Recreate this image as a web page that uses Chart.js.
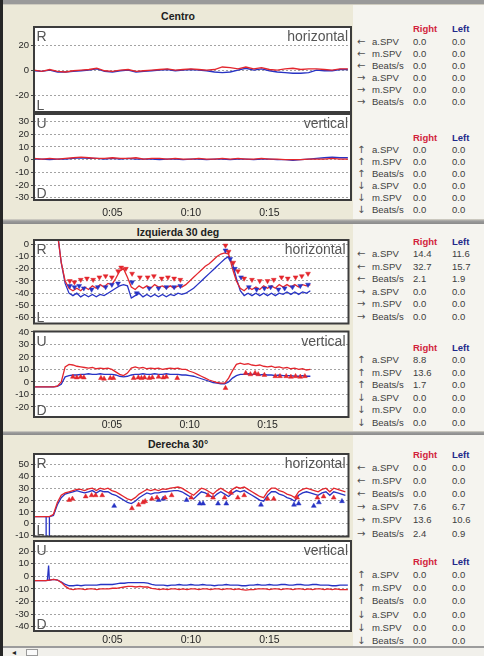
<!DOCTYPE html>
<html>
<head>
<meta charset="utf-8">
<title>Nystagmus recording</title>
<script src="https://cdn.jsdelivr.net/npm/chart.js@4/dist/chart.umd.min.js"></script>
<style>
  html, body { margin: 0; padding: 0; }
  body { width: 484px; height: 656px; overflow: hidden; position: relative; background: #ECE9D8;
         font-family: "Liberation Sans", Arial, sans-serif; }
  .blk { position: absolute; }
  canvas { position: absolute; left: 0; }
  .ttl { position: absolute; left: 3px; width: 350px; text-align: center; font-weight: bold;
         font-size: 10.5px; line-height: 12px; color: #202020; }
  .tx { position: absolute; font-size: 9.5px; line-height: 11px; color: #404040; white-space: nowrap; }
  .arr { font-family: "DejaVu Sans", sans-serif; font-size: 10px; color: #505050; }
  .hr { color: #d21f3c; font-weight: bold; }
  .hl { color: #1f2a8a; font-weight: bold; }
</style>
</head>
<body>
<script>
// ---------- sampling times (s) ----------
const T = [0,0.25,0.5,0.75,1,1.25,1.5,1.75,2,2.25,2.5,2.75,3,3.25,3.5,3.75,4,4.25,4.5,4.75,
  5,5.25,5.5,5.75,6,6.25,6.5,6.75,7,7.25,7.5,7.75,8,8.25,8.5,8.75,9,9.25,9.5,9.75,
  10,10.25,10.5,10.75,11,11.25,11.5,11.75,12,12.25,12.5,12.75,13,13.25,13.5,13.75,14,14.25,14.5,14.75,
  15,15.25,15.5,15.75,16,16.25,16.5,16.75,17,17.25,17.5,17.75,18,18.25,18.5,18.75,19,19.25,19.5,19.75,20];
const T1 = [0,0.5,1,1.5,2,2.5,3,3.5,4,4.5,5,5.5,6,6.5,7,7.5,8,8.5,9,9.5,
  10,10.5,11,11.5,12,12.5,13,13.5,14,14.5,15,15.5,16,16.5,17,17.5,18,18.5,19,19.5,20];

// ---------- Centro ----------
const centroHorRight = [0.5,-0.5,1,-0.5,-1,0,0.5,1,2,0,-0.5,0.5,1,-0.5,0,0.5,1,1.5,0.5,1,
  1.5,1,0.5,1,3,2.5,1.5,3,1.5,2.5,1,0.5,1.5,2,1,1.5,1.5,1,0.5,1.5,1.5];
const centroHorLeft = [0,-0.5,0.5,-1,-1,-0.5,0,0.5,1.5,-0.5,-1,0,0.5,-1,-0.5,0,0.5,1,0,0.5,
  1,0.5,0,-1,-1.5,-1,0.5,2,0.5,1.5,0,-1,-1.5,-2,-2,-1.5,0.5,0,0,1,1];
const centroVerRight = [1,0.5,1,0.5,1,1.5,2,1.5,1,1,1.5,1,1,1.5,0.5,1,1,0.5,1,0.5,
  0.5,1,0.5,0.5,1,0.5,1,0.5,0.5,1,0.5,0.5,0,0,0,0.5,0.5,0.5,1,0.5,0.5];
const centroVerLeft = [0.5,0.5,0,0.5,0.5,1,1.5,1,1,0.5,1,0.5,1,0.5,0.5,0.5,0,0.5,0.5,0,
  0.5,0.5,0,0.5,0.5,0,0.5,0.5,0,0.5,0.5,0,0,-0.5,0,0.5,1,1.5,2,1.5,1.5];

// ---------- Izquierda 30 deg ----------
const izqHorRight = [10,10,10,10,10,10,10,-15,-30,-36,-38,-36,-38,-35,-37,-34,-36,-33,-35,-32,
  -33,-28,-22,-20,-27,-35,-37,-34,-36,-34,-36,-33,-35,-34,-36,-34,-36,-34,-35,-33,
  -30,-27,-24,-21,-18,-16,-13,-10,-8,-7,-8,-20,-30,-36,-38,-35,-37,-35,-37,-34,
  -36,-34,-36,-33,-35,-33,-35,-33,-35,-33,-34,-33,null,null,null,null,null,null,null,null,null];
const izqHorLeft = [10,10,10,10,10,10,10,-15,-32,-40,-42,-40,-43,-41,-43,-41,-43,-41,-42,-40,
  -38,-36,-34,-33,-34,-44,-42,-40,-43,-41,-43,-41,-43,-41,-43,-41,-42,-40,-41,-40,
  -38,-36,-33,-30,-27,-24,-21,-18,-15,-12,-10,-16,-28,-38,-42,-40,-42,-40,-42,-40,
  -42,-40,-42,-40,-41,-39,-41,-39,-41,-39,-40,-38,null,null,null,null,null,null,null,null,null];
const izqVerRight = [-4,-4,-4,-4,-4,-4,-3.5,0,12,14,13.5,12.5,12,11.5,11,11.5,10.5,11,10.5,11,
  10,8,6,5,7,11,12,11,11.5,10.5,11,10.5,11,10,10.5,11,10.5,11,10,10,
  8.5,7.5,6,4.5,3,1.5,0.5,-0.5,-1,-1,3,9,14,15,14,14.5,13.5,13,13.5,12.5,
  12,12.5,11.5,12,11,11.5,10.5,11,10,10.5,9.5,10,null,null,null,null,null,null,null,null,null];
const izqVerLeft = [-4,-4,-4,-4,-4,-4,-3.5,-2,4,5,5.5,5.5,6,6,6.5,6,6,6.5,6,6,
  6,5.5,4.5,4,4.5,5.5,6,6,6.5,6,6,6.5,6,6,6.5,6,6,6,5.5,5.5,
  5,4.5,3.5,2.5,1.5,0.5,-0.5,-1,-1.5,-1.5,0,3,5,6,6,6.5,6,6,5.5,6,
  5.5,5.5,5,5.5,5,5,5,4.5,4.5,5,4.5,4.5,null,null,null,null,null,null,null,null,null];
// slow-phase markers
const izqHorRightMarkT = [2.3,2.6,3.0,3.4,3.8,4.2,4.6,5.0,5.4,5.6,5.9,6.3,6.8,7.3,7.7,8.2,8.6,9.0,9.4,
  12.3,12.5,12.8,13.1,13.5,14.0,14.5,15.0,15.4,15.9,16.3,16.8,17.2,17.6];
const izqHorRightMarkV = [-30,-31,-29,-28,-29,-27,-26,-27,-22,-19,-20,-24,-27,-27,-26,-28,-27,-28,-29,
  -1,-6,-15,-22,-28,-29,-30,-30,-29,-27,-28,-27,-26,-24];
const izqHorLeftMarkT = [2.3,2.6,2.9,3.2,3.7,4.1,4.6,5.0,5.4,6.3,6.6,7.4,8.0,8.5,9.0,9.4,
  12.3,12.6,12.9,13.3,13.8,14.3,14.8,15.2,15.7,16.1,16.6,17.1,17.6];
const izqHorLeftMarkV = [-34,-35,-34,-36,-37,-35,-35,-33,-32,-31,-40,-36,-36,-35,-35,-34,
  -5,-12,-20,-27,-35,-37,-36,-35,-37,-36,-35,-34,-33];
const izqVerRightMarkT = [2.5,2.75,3.0,3.2,4.3,4.5,4.9,5.1,6.4,6.7,6.9,7.1,7.4,7.6,8.0,8.3,8.5,9.2,
  12.3,13.6,13.9,14.2,14.4,14.8,15.5,15.8,16.2,16.5,16.8,17.1,17.4];
const izqVerRightMarkV = [4,3.5,4,3.5,3,2.5,3,3,3,3.5,3,3.5,3,3.5,4,3.5,4,3,
  -5,7,6,7,6,5.5,4.5,4.5,4.5,4,4.5,4,4.5];

// ---------- Derecha 30° ----------
const derHorRight = [6,6,6,6,6,8,18,24,26,27,28,29,29,28,29.5,30,28,30,29,30,
  28,27,25,23,21,20,22,25,27,29,28,29,28,29.5,29,30,30.5,31,30,28,
  26,24,27,30,29,27,25,28,30,28,26,29,31,30,31,29,27,25,23,22,
  27,30,30,28,27,25,24,22,27,29,30,29,28,27,29,30,27,30,29,28,27];
const derHorLeft = [6,6,6,6,6,7,16,22,25,26,27,28,27,26,27,28,26,28,27,27,
  25,24,22,20,18,17,19,22,24,26,25,26,26,27,27,27.5,28,28,27,25,
  23,21,24,27,26,24,22,25,27,25,23,26,28,27,28,26,24,22,20,19,
  24,27,27,25,24,22,21,19,24,26,27,26,25,24,26,27,24,27,26,25,24];
const derHorLeftBlinkT = [0.78,0.78,0.99,0.99];
const derHorLeftBlinkV = [6,-16,-16,6];
const derVerRight = [-3.5,-3.5,-3.5,-3.5,-3,-2.5,-3,-5,-8,-10,-10.5,-10,-10,-10.5,-10,-10,-10.5,-10,-10,-10,
  -9.5,-9.5,-9,-8.5,-8,-8,-8.5,-8,-8.5,-8.5,-9.5,-10,-10.5,-10,-10.5,-10,-10,-10.5,-10,-10.5,
  -10,-10,-10.5,-10,-10,-10.5,-10,-10,-10.5,-10,-10,-10.5,-10,-10.5,-11,-10.5,-10.5,-10,-10,-10,
  -10.5,-10,-10,-10.5,-10,-10,-10.5,-10,-10,-10.5,-10,-10.5,-10,-10,-10.5,-10,-10.5,-10,-10.5,-10.5,-10.5];
const derVerLeft = [-3.5,-3.5,-3.5,-3.5,-3,-2.5,-3,-4.5,-6.5,-7.5,-7.5,-7,-7.5,-7,-7,-7,-7,-6.5,-6.5,-6.5,
  -6.5,-6,-5.5,-5.5,-5,-5,-5,-5,-5,-5.5,-6.5,-7,-7,-7,-7.5,-7,-7,-6.5,-7,-7,
  -6.5,-7,-7,-6.5,-7,-7,-7.5,-7,-7,-6.5,-7,-7,-7,-7.5,-7.5,-7,-7,-6.5,-7,-7,
  -6.5,-7,-7,-6.5,-6.5,-7,-7,-6.5,-6.5,-7,-7,-6.5,-6.5,-7,-7,-7,-7.5,-7.5,-7,-7,-7];
const derVerLeftBlinkT = [0.85,0.93,0.98];
const derVerLeftBlinkV = [-3.5,8.5,-3];
const derHorRightMarkT = [2.26,2.47,3.32,3.7,3.96,4.38,6.29,6.72,7.0,7.14,7.57,7.9,8.42,8.84,
  10.1,11.18,11.5,12.24,12.66,13.09,13.5,15.0,15.4,16.9,18.2,18.6,19.25];
const derHorRightMarkV = [20,21,23,24,24,24,13,16,18,19,21,22,22,24,22,24,22,22,26,22,24,21,21,22,22,23,22];
const derHorLeftMarkT = [5.15,8.0,8.3,9.8,10.65,10.86,11.82,12.35,14.58,16.7,17.0,17.97,18.3,19.78];
const derHorLeftMarkV = [15,20,21,20,17,17,17,17,16,16,17,15,18,19];

// ---------- axis ticks ----------
const timeTickValues = [5, 10, 15];
const timeTickLabels = ['0:05', '0:10', '0:15'];
const centroHorTicks = [-20, 0, 20];
const centroVerTicks = [-30, -20, -10, 0, 10, 20, 30];
const izqHorTicks = [-60, -50, -40, -30, -20, -10, 0];
const izqVerTicks = [-20, -10, 0, 10, 20, 30, 40];
const derHorTicks = [-10, 0, 10, 20, 30, 40, 50];
const derVerTicks = [-40, -30, -20, -10, 0, 10, 20];

// ---------- summary tables (Right / Left) ----------
const metricNames = ['a.SPV', 'm.SPV', 'Beats/s'];
const horArrows = ['\u2190', '\u2190', '\u2190', '\u2192', '\u2192', '\u2192'];
const verArrows = ['\u2191', '\u2191', '\u2191', '\u2193', '\u2193', '\u2193'];
const centroRightVals = [0.0,0.0,0.0,0.0,0.0,0.0, 0.0,0.0,0.0,0.0,0.0,0.0];
const centroLeftVals  = [0.0,0.0,0.0,0.0,0.0,0.0, 0.0,0.0,0.0,0.0,0.0,0.0];
const izqRightVals    = [14.4,32.7,2.1,0.0,0.0,0.0, 8.8,13.6,1.7,0.0,0.0,0.0];
const izqLeftVals     = [11.6,15.7,1.9,0.0,0.0,0.0, 0.0,0.0,0.0,0.0,0.0,0.0];
const derRightVals    = [0.0,0.0,0.0,7.6,13.6,2.4, 0.0,0.0,0.0,0.0,0.0,0.0];
const derLeftVals     = [0.0,0.0,0.0,6.7,10.6,0.9, 0.0,0.0,0.0,0.0,0.0,0.0];

// ---------- page frame ----------
function box(l, t, w, h, bg, extra) {
  const d = document.createElement('div');
  d.className = 'blk';
  d.style.cssText = `left:${l}px;top:${t}px;width:${w}px;height:${h}px;background:${bg};` + (extra || '');
  document.body.appendChild(d);
  return d;
}
function text(l, cy, str, cls) {
  const d = document.createElement('div');
  d.className = 'tx ' + (cls || '');
  d.style.left = l + 'px';
  d.style.top = (cy - 5.5) + 'px';
  d.textContent = str;
  document.body.appendChild(d);
}
function title(cy, str) {
  const d = document.createElement('div');
  d.className = 'ttl';
  d.style.top = (cy - 6) + 'px';
  d.textContent = str;
  document.body.appendChild(d);
}

// side panels behind the tables
box(353, 5, 131, 214, '#F5F4EF');
box(353, 224, 131, 207, '#F5F4EF');
box(353, 435, 131, 211, '#F5F4EF');
// separators
box(0, 0, 484, 4, '#9a9a9a');
box(0, 4, 484, 1, '#cfccc0');
box(0, 219, 484, 5, 'linear-gradient(#d9d6ca,#9c9c9c 40%,#8a8a8a)');
box(0, 431, 484, 4, 'linear-gradient(#d9d6ca,#9c9c9c 40%,#8a8a8a)');
box(0, 646, 484, 2, '#9c9c9c');
// scroll bar
box(3, 648, 481, 8, '#f1f0eb');
box(26, 649, 12, 7, '#fafafa', 'box-sizing:border-box;border:1px solid #9a9a9a;');
const sb = document.createElement('div');
sb.className = 'tx arr';
sb.style.cssText = 'left:12px;top:647px;font-size:8px;color:#222;';
sb.textContent = '\u25C2';
document.body.appendChild(sb);

title(15.5, 'Centro');
title(231.5, 'Izquierda 30 deg');
title(444, 'Derecha 30\u00B0');

function table(h1, r1, h2, r2, step, rightVals, leftVals) {
  [[h1, r1, horArrows], [h2, r2, verArrows]].forEach(([hy, ry, arrows], g) => {
    text(413, hy, 'Right', 'hr');
    text(452, hy, 'Left', 'hl');
    for (let i = 0; i < 6; i++) {
      const y = ry + i * step;
      text(357, y, arrows[i], 'arr');
      text(372, y, metricNames[i % 3]);
      text(413, y, rightVals[g * 6 + i].toFixed(1));
      text(452, y, leftVals[g * 6 + i].toFixed(1));
    }
  });
}
table(28, 41.5, 137, 149.5, 12, centroRightVals, centroLeftVals);
table(241, 253.5, 347, 359.5, 12.5, izqRightVals, izqLeftVals);
table(454, 467, 561, 574.5, 13.2, derRightVals, derLeftVals);

// left window edge
box(0, 0, 3, 656, '#262626');

// ---------- charts ----------
const RED = '#e3262d';
const BLUE = '#2733c4';
Chart.defaults.font.family = '"Liberation Sans", Arial, sans-serif';

function pts(times, values) { return times.map((t, i) => ({ x: t, y: values[i] })); }
function lineDs(times, values, color) {
  return { data: pts(times, values), borderColor: color, borderWidth: 1.3, pointRadius: 0, tension: 0, fill: false };
}
function markDs(times, values, color, rot) {
  return { data: pts(times, values), showLine: false, pointStyle: 'triangle', pointRotation: rot,
           pointRadius: 2.8, pointBackgroundColor: color, pointBorderColor: color, pointBorderWidth: 0.5 };
}

const panelFrame = {
  id: 'panelFrame',
  beforeDraw(chart) {
    const { ctx, chartArea: a } = chart;
    ctx.save();
    ctx.fillStyle = '#ffffff';
    ctx.fillRect(a.left, a.top, a.right - a.left, a.bottom - a.top);
    ctx.restore();
  },
  beforeDatasetsDraw(chart, args, o) {
    const { ctx, chartArea: a } = chart;
    ctx.save();
    ctx.font = '14px "Liberation Sans", Arial, sans-serif';
    ctx.fillStyle = '#555555';
    ctx.textBaseline = 'alphabetic';
    ctx.textAlign = 'left';
    ctx.fillText(o.topLeft, a.left + 2.5, a.top + 14);
    ctx.fillText(o.bottomLeft, a.left + 2.5, a.bottom - 2);
    ctx.textAlign = 'right';
    ctx.fillText(o.topRight, a.right - 3, a.top + 14);
    ctx.restore();
  },
  afterDraw(chart) {
    const { ctx, chartArea: a } = chart;
    ctx.save();
    ctx.strokeStyle = '#3c3c3c';
    ctx.lineWidth = 2;
    ctx.strokeRect(a.left, a.top, a.right - a.left, a.bottom - a.top);
    ctx.restore();
  }
};

function makeChart(c) {
  const cv = document.createElement('canvas');
  cv.width = 353; cv.height = c.h;
  cv.style.top = c.top + 'px';
  cv.style.width = '353px'; cv.style.height = c.h + 'px';
  document.body.appendChild(cv);
  new Chart(cv, {
    type: 'line',
    data: { datasets: c.datasets },
    options: {
      responsive: false, animation: false, events: [], devicePixelRatio: 1,
      layout: { padding: { top: c.padTop, bottom: c.padBottom, left: 0, right: 2 } },
      plugins: { legend: { display: false }, tooltip: { enabled: false },
                 panelFrame: { topLeft: c.tl, bottomLeft: c.bl, topRight: c.tr } },
      scales: {
        x: {
          type: 'linear', min: 0, max: 20.2,
          grid: { display: false, drawTicks: false }, border: { display: false },
          ticks: { display: c.xLabels, padding: c.xPad || 0, color: '#262626', font: { size: 10.5 },
                   maxRotation: 0, autoSkip: false,
                   callback: (v) => timeTickLabels[timeTickValues.indexOf(v)] },
          afterBuildTicks: (s) => { s.ticks = timeTickValues.map(v => ({ value: v })); },
          afterFit: (s) => { s.height = c.xH; s.paddingLeft = 0; s.paddingRight = 0; }
        },
        y: {
          type: 'linear', min: c.yMin, max: c.yMax,
          grid: { color: '#a3a3a3', lineWidth: 1, drawTicks: true, tickLength: 3, tickColor: '#4a4a4a', tickBorderDash: [] },
          border: { display: false, dash: [2, 2] },
          ticks: { padding: 2, color: '#262626', font: { size: 9.5 }, autoSkip: false, callback: (v) => String(v) },
          afterBuildTicks: (s) => { s.ticks = c.yTicks.map(v => ({ value: v })); },
          afterFit: (s) => { s.width = 34; s.paddingTop = 0; s.paddingBottom = 0; }
        }
      }
    },
    plugins: [panelFrame]
  });
}

const charts = [
  { top: 22, h: 91, padTop: 5, padBottom: 1, yMin: -33, yMax: 35, yTicks: centroHorTicks,
    xLabels: false, xH: 0, tl: 'R', bl: 'L', tr: 'horizontal',
    datasets: [lineDs(T1, centroHorRight, RED), lineDs(T1, centroHorLeft, BLUE)] },
  { top: 113, h: 107, padTop: 1, padBottom: 0, yMin: -31.8, yMax: 36, yTicks: centroVerTicks,
    xLabels: true, xH: 20, xPad: 6.5, tl: 'U', bl: 'D', tr: 'vertical',
    datasets: [lineDs(T1, centroVerRight, RED), lineDs(T1, centroVerLeft, BLUE)] },
  { top: 235, h: 93, padTop: 5, padBottom: 1, yMin: -64.8, yMax: 3.5, yTicks: izqHorTicks,
    xLabels: false, xH: 0, tl: 'R', bl: 'L', tr: 'horizontal',
    datasets: [markDs(izqHorRightMarkT, izqHorRightMarkV, RED, 180),
               markDs(izqHorLeftMarkT, izqHorLeftMarkV, BLUE, 180),
               lineDs(T, izqHorRight, RED), lineDs(T, izqHorLeft, BLUE)] },
  { top: 327, h: 107, padTop: 1, padBottom: 0, yMin: -28.1, yMax: 40.3, yTicks: izqVerTicks,
    xLabels: true, xH: 17, xPad: 1.7, tl: 'U', bl: 'D', tr: 'vertical',
    datasets: [markDs(izqVerRightMarkT, izqVerRightMarkV, RED, 0),
               lineDs(T, izqVerRight, RED), lineDs(T, izqVerLeft, BLUE)] },
  { top: 449, h: 92, padTop: 5, padBottom: 1, yMin: -10.8, yMax: 58.9, yTicks: derHorTicks,
    xLabels: false, xH: 0, tl: 'R', bl: 'L', tr: 'horizontal',
    datasets: [markDs(derHorRightMarkT, derHorRightMarkV, RED, 0),
               markDs(derHorLeftMarkT, derHorLeftMarkV, BLUE, 0),
               lineDs(T, derHorRight, RED), lineDs(T, derHorLeft, BLUE),
               lineDs(derHorLeftBlinkT, derHorLeftBlinkV, BLUE)] },
  { top: 540, h: 106, padTop: 1, padBottom: 0, yMin: -43.4, yMax: 28, yTicks: derVerTicks,
    xLabels: true, xH: 15, xPad: 3.2, tl: 'U', bl: 'D', tr: 'vertical',
    datasets: [lineDs(T, derVerRight, RED), lineDs(T, derVerLeft, BLUE),
               lineDs(derVerLeftBlinkT, derVerLeftBlinkV, BLUE)] }
];
charts.forEach(makeChart);
</script>
</body>
</html>
